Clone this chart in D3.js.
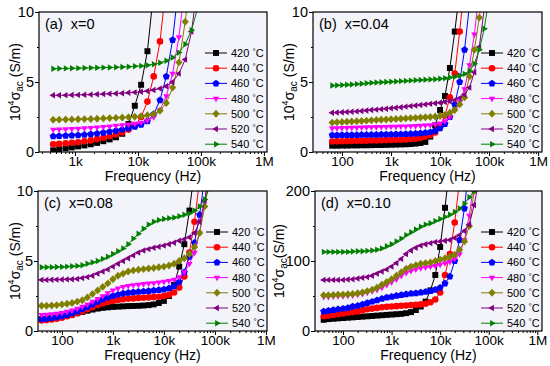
<!DOCTYPE html>
<html>
<head>
<meta charset="utf-8">
<script src="https://cdn.jsdelivr.net/npm/d3@7"></script>
<style>
body { margin: 0; background: #fff; }
text { font-family: Arial, "Liberation Sans", sans-serif; }
</style>
</head>
<body>
<svg width="550" height="366"></svg>
<script>
// series: 420..540 °C
const temps = ['420', '440', '460', '480', '500', '520', '540'];
const colors = ['#000000', '#ff0000', '#0000ff', '#ff00ff', '#808000', '#800080', '#008000'];
const shapes = ['square', 'circle', 'pentagon', 'down', 'diamond', 'left', 'right'];

// frequencies (Hz)
const freqA = [450, 560, 710, 890, 1120, 1410, 1780, 2240, 2820, 3550, 4470, 5620, 7080, 8910,
  11220, 14130, 17780, 22390, 28180, 35480, 44670, 56230, 70790, 89130];
const freqBCD = [40, 50, 63, 79, 100, 126, 158, 200, 251, 316, 398, 501, 631, 794, 1000, 1259, 1585,
  1995, 2512, 3162, 3981, 5012, 6310, 7943, 10000, 12589, 15849, 19953, 25119, 31623, 39811,
  50119, 63096, 79433, 100000];

// (a) x=0
const sigmaA = [
  [0.12, 0.2, 0.27, 0.33, 0.4, 0.47, 0.55, 0.65, 0.77, 0.9, 1.05, 1.3, 2.0, 3.3, 4.8, 7.2, 11.5],
  [0.55, 0.58, 0.62, 0.66, 0.7, 0.76, 0.83, 0.92, 1.02, 1.12, 1.25, 1.4, 1.6, 1.9, 2.5, 3.6, 5.4, 7.9, 12],
  [1.12, 1.14, 1.16, 1.18, 1.2, 1.23, 1.27, 1.32, 1.38, 1.45, 1.52, 1.6, 1.7, 1.8, 1.95, 2.2, 2.7, 3.7, 5.4, 8.0, 12],
  [1.6, 1.62, 1.64, 1.66, 1.68, 1.7, 1.73, 1.76, 1.8, 1.84, 1.88, 1.92, 1.97, 2.02, 2.1, 2.25, 2.5, 3.0, 4.0, 5.6, 8.2, 12],
  [2.3, 2.31, 2.32, 2.33, 2.34, 2.35, 2.36, 2.38, 2.4, 2.42, 2.44, 2.46, 2.49, 2.52, 2.56, 2.62, 2.72, 2.95, 3.5, 4.6, 6.4, 9.3, 13],
  [4.05, 4.05, 4.06, 4.07, 4.08, 4.09, 4.1, 4.12, 4.14, 4.16, 4.18, 4.2, 4.23, 4.26, 4.3, 4.36, 4.43, 4.53, 4.7, 5.0, 5.6, 6.6, 8.6, 12],
  [5.95, 5.96, 5.97, 5.98, 5.99, 6.0, 6.01, 6.02, 6.03, 6.04, 6.05, 6.07, 6.09, 6.12, 6.15, 6.2, 6.27, 6.37, 6.52, 6.75, 7.1, 7.7, 8.7, 10.3]
];

// (b) x=0.04
const sigmaB = [
  [null, null, 0.45, 0.45, 0.46, 0.46, 0.47, 0.47, 0.48, 0.48, 0.49, 0.5, 0.5, 0.51, 0.52, 0.53, 0.54, 0.55, 0.57, 0.6, 0.64, 0.72, 1.1, 1.9, 3.0, 4.0, 6.0, 8.6, 11.5],
  [null, null, 0.75, 0.76, 0.77, 0.78, 0.79, 0.8, 0.8, 0.81, 0.82, 0.83, 0.84, 0.85, 0.86, 0.87, 0.88, 0.9, 0.92, 0.95, 1.0, 1.1, 1.2, 1.4, 1.8, 2.6, 3.9, 5.6, 8.6, 12],
  [null, null, 1.2, 1.2, 1.21, 1.21, 1.22, 1.22, 1.23, 1.23, 1.24, 1.24, 1.25, 1.25, 1.26, 1.27, 1.28, 1.29, 1.3, 1.32, 1.34, 1.37, 1.42, 1.5, 1.7, 2.0, 2.5, 3.4, 5.0, 7.3, 10.5],
  [null, null, 1.7, 1.71, 1.72, 1.73, 1.74, 1.75, 1.76, 1.77, 1.78, 1.79, 1.8, 1.8, 1.81, 1.82, 1.83, 1.84, 1.85, 1.86, 1.88, 1.9, 1.93, 1.97, 2.05, 2.2, 2.5, 3.0, 3.6, 4.5, 6.2, 8.4, 11.5],
  [null, null, 2.1, 2.12, 2.14, 2.16, 2.18, 2.2, 2.22, 2.24, 2.26, 2.28, 2.3, 2.32, 2.34, 2.36, 2.38, 2.4, 2.42, 2.44, 2.46, 2.48, 2.5, 2.53, 2.57, 2.65, 2.8, 3.0, 3.4, 3.9, 5.4, 7.3, 9.6, 12.5],
  [null, null, 2.8, 2.82, 2.84, 2.86, 2.88, 2.9, 2.93, 2.96, 3.0, 3.03, 3.06, 3.09, 3.12, 3.16, 3.2, 3.24, 3.28, 3.32, 3.36, 3.4, 3.44, 3.48, 3.52, 3.57, 3.62, 3.7, 3.85, 4.1, 4.6, 5.7, 7.5, 10.2, 13],
  [null, null, 4.75, 4.76, 4.78, 4.8, 4.82, 4.85, 4.88, 4.91, 4.94, 4.96, 4.98, 5.0, 5.02, 5.04, 5.06, 5.08, 5.1, 5.12, 5.14, 5.16, 5.18, 5.2, 5.23, 5.27, 5.32, 5.38, 5.46, 5.58, 5.8, 6.3, 7.3, 8.8, 11]
];

// (c) x=0.08
const sigmaC = [
  [0.85, 0.88, 0.92, 0.97, 1.03, 1.1, 1.18, 1.27, 1.36, 1.45, 1.53, 1.6, 1.65, 1.69, 1.72, 1.74, 1.76, 1.78, 1.79, 1.8, 1.82, 1.85, 1.9, 2.0, 2.15, 2.5, 3.3, 4.6, 6.2, 8.6, 11.5],
  [0.75, 0.78, 0.82, 0.88, 0.95, 1.05, 1.15, 1.27, 1.4, 1.55, 1.7, 1.85, 1.97, 2.07, 2.15, 2.22, 2.27, 2.3, 2.33, 2.36, 2.38, 2.4, 2.42, 2.45, 2.5, 2.58, 2.75, 3.1, 3.9, 5.6, 7.8, 10.8],
  [0.85, 0.88, 0.92, 0.98, 1.05, 1.15, 1.27, 1.4, 1.55, 1.72, 1.9, 2.08, 2.25, 2.4, 2.5, 2.6, 2.68, 2.73, 2.77, 2.8, 2.83, 2.86, 2.9, 2.93, 2.97, 3.05, 3.2, 3.5, 4.2, 5.3, 6.3, 8.3, 11],
  [1.15, 1.18, 1.2, 1.25, 1.3, 1.38, 1.48, 1.6, 1.75, 1.9, 2.1, 2.3, 2.5, 2.7, 2.9, 3.05, 3.15, 3.22, 3.28, 3.32, 3.36, 3.4, 3.43, 3.47, 3.52, 3.58, 3.68, 3.85, 4.2, 4.8, 5.6, 7.0, 9.3, 12],
  [1.8, 1.8, 1.82, 1.85, 1.9, 1.95, 2.0, 2.1, 2.2, 2.4, 2.65, 2.9, 3.15, 3.4, 3.7, 3.95, 4.1, 4.25, 4.33, 4.38, 4.42, 4.46, 4.5, 4.55, 4.6, 4.68, 4.8, 5.0, 5.2, 5.5, 6.0, 7.0, 8.9, 11],
  [3.65, 3.65, 3.66, 3.67, 3.68, 3.69, 3.7, 3.72, 3.78, 3.85, 3.95, 4.1, 4.25, 4.4, 4.6, 4.8, 5.0, 5.2, 5.4, 5.6, 5.75, 5.85, 5.95, 6.02, 6.1, 6.2, 6.3, 6.45, 6.55, 6.7, 7.0, 7.8, 9.3, 11.5],
  [4.55, 4.55, 4.56, 4.57, 4.58, 4.6, 4.62, 4.65, 4.7, 4.8, 4.9, 5.0, 5.15, 5.3, 5.5, 5.7, 5.9, 6.2, 6.6, 6.95, 7.3, 7.6, 7.8, 7.92, 8.0, 8.05, 8.1, 8.2, 8.3, 8.4, 8.6, 8.9, 9.4, 10.3]
];

// (d) x=0.10
const sigmaD = [
  [16, 17, 17.5, 18, 18.5, 19, 19.5, 20, 20.5, 21, 21.5, 22, 22.5, 23, 23.5, 24, 24.5, 25.5, 27, 30, 35, 42, 58, 80, 120, 176, 240],
  [21, 22, 23, 24, 25, 26, 27, 28, 29.5, 31, 32, 33, 34, 34.5, 35, 35.5, 36, 36.5, 37, 37.5, 38, 39, 41, 45, 55, 80, 110, 155, 215],
  [28, 29, 30, 31, 32, 33, 35, 36, 38, 40, 42, 44, 46, 48, 49, 50.5, 51.5, 52.5, 53.5, 54, 55, 56, 57, 59, 62, 68, 78, 100, 130, 175, 240],
  [49, 49, 49.5, 50, 50, 50.5, 51, 52, 53, 55, 57, 59, 62, 66, 70, 74, 79, 83, 86, 88, 90, 91, 92, 93, 95, 97, 99, 103, 110, 130, 165, 215],
  [51, 51, 51.5, 52, 52, 52.5, 53, 54, 55, 57, 59, 62, 66, 70, 74, 79, 84, 89, 92, 94, 96, 97, 98, 100, 102, 104, 106, 109, 116, 128, 150, 200, 250],
  [73, 73, 73, 73, 73, 73.5, 74, 75, 76, 77, 79, 82, 85, 88, 92, 97, 103, 110, 115, 119, 122, 124, 125.5, 127, 128, 129, 130, 133, 137, 143, 152, 180, 215],
  [113, 113, 113, 113, 113, 113, 113.5, 114, 114, 114.5, 115, 116, 118, 121, 124, 128, 132, 137, 141, 145, 149, 152, 154, 157, 160, 163, 166, 170, 175, 182, 191, 200, 212]
];

const xTickVals = [100, 1000, 10000, 100000, 1000000];
const xTickText = ['100', '1k', '10k', '100k', '1M'];

const panels = [
  {tag: '(a)', comp: 'x=0', freq: freqA, data: sigmaA, left: 39, right: 267, top: 12, bottom: 152,
   xDom: [268, 1.12e6], yDom: [0, 10], yTicks: [0, 5, 10], yMinor: [2.5, 7.5], legX: 205, titleX: 20},
  {tag: '(b)', comp: 'x=0.04', freq: freqBCD, data: sigmaB, left: 313, right: 542, top: 12, bottom: 152,
   xDom: [25.6, 1.2e6], yDom: [0, 10], yTicks: [0, 5, 10], yMinor: [2.5, 7.5], legX: 481, titleX: 294},
  {tag: '(c)', comp: 'x=0.08', freq: freqBCD, data: sigmaC, left: 38, right: 267, top: 191, bottom: 331,
   xDom: [34, 1.05e6], yDom: [0, 10], yTicks: [0, 5, 10], yMinor: [2.5, 7.5], legX: 206, titleX: 20},
  {tag: '(d)', comp: 'x=0.10', freq: freqBCD, data: sigmaD, left: 315, right: 542, top: 191, bottom: 331,
   xDom: [26.5, 1.25e6], yDom: [0, 200], yTicks: [0, 100, 200], yMinor: [50, 150], legX: 481, titleX: 284}
];

function marker(type, r) {
  const poly = pts => 'M' + pts.map(p => p.join(',')).join('L') + 'Z';
  const ang = (n, off) => d3.range(n).map(k => {
    const a = off + k * 2 * Math.PI / n;
    return [r * 1.12 * Math.cos(a), r * 1.12 * Math.sin(a)];
  });
  switch (type) {
    case 'square': { const s = r * 0.9; return poly([[-s, -s], [s, -s], [s, s], [-s, s]]); }
    case 'circle': return `M${r},0A${r},${r} 0 1,1 ${-r},0A${r},${r} 0 1,1 ${r},0Z`;
    case 'pentagon': return poly(ang(5, -Math.PI / 2));
    case 'down': return poly(ang(3, Math.PI / 2));
    case 'diamond': return poly([[0, -r * 1.2], [r * 1.1, 0], [0, r * 1.2], [-r * 1.1, 0]]);
    case 'left': return poly(ang(3, Math.PI));
    case 'right': return poly(ang(3, 0));
  }
}

const svg = d3.select('svg');

panels.forEach((p, pi) => {
  const g = svg.append('g');
  const x = d3.scaleLog().domain(p.xDom).range([p.left, p.right]);
  const y = d3.scaleLinear().domain(p.yDom).range([p.bottom, p.top]);

  g.append('rect')
    .attr('x', p.left).attr('y', p.top)
    .attr('width', p.right - p.left).attr('height', p.bottom - p.top)
    .attr('fill', '#f3f3fa');

  const clipId = 'clip' + pi;
  g.append('clipPath').attr('id', clipId)
    .append('rect')
    .attr('x', p.left).attr('y', p.top)
    .attr('width', p.right - p.left).attr('height', p.bottom - p.top);

  const plot = g.append('g').attr('clip-path', `url(#${clipId})`);
  const line = d3.line().x(d => x(d[0])).y(d => y(d[1]));

  p.data.forEach((vals, i) => {
    const pts = p.freq.map((f, j) => [f, vals[j]]).filter(d => d[1] != null && d[1] !== undefined);
    plot.append('path')
      .attr('d', line(pts))
      .attr('fill', 'none')
      .attr('stroke', colors[i])
      .attr('stroke-width', 1);
    plot.selectAll(null)
      .data(pts).enter()
      .append('path')
        .attr('transform', d => `translate(${x(d[0])},${y(d[1])})`)
        .attr('d', marker(shapes[i], 3.3))
        .attr('fill', colors[i]);
  });

  // axes
  const fmt = d => xTickText[xTickVals.indexOf(d)];
  const inX = xTickVals.filter(v => v >= p.xDom[0] && v <= p.xDom[1]);
  const minorX = [];
  [10, 100, 1000, 10000, 100000].forEach(dec => {
    for (let k = 2; k <= 9; k++) {
      const v = k * dec;
      if (v >= p.xDom[0] && v <= p.xDom[1]) minorX.push(v);
    }
  });

  const xa = g.append('g').attr('transform', `translate(0,${p.bottom})`)
    .call(d3.axisBottom(x).tickValues(inX).tickFormat(fmt).tickSizeInner(4).tickSizeOuter(0).tickPadding(0));
  g.append('g').attr('transform', `translate(0,${p.bottom})`)
    .call(d3.axisBottom(x).tickValues(minorX).tickFormat('').tickSizeInner(2).tickSizeOuter(0));

  const ya = g.append('g').attr('transform', `translate(${p.left},0)`)
    .call(d3.axisLeft(y).tickValues(p.yTicks).tickSizeInner(4).tickSizeOuter(0).tickPadding(1));
  g.append('g').attr('transform', `translate(${p.left},0)`)
    .call(d3.axisLeft(y).tickValues(p.yMinor).tickFormat('').tickSizeInner(2).tickSizeOuter(0));

  g.selectAll('.domain').remove();
  g.selectAll('.tick line').attr('stroke', '#000');
  xa.selectAll('text').attr('font-size', 13.5).attr('fill', '#000').attr('font-family', 'Arial, "Liberation Sans", sans-serif');
  ya.selectAll('text').attr('font-size', 14.5).attr('fill', '#000').attr('font-family', 'Arial, "Liberation Sans", sans-serif');

  g.append('rect')
    .attr('x', p.left).attr('y', p.top)
    .attr('width', p.right - p.left).attr('height', p.bottom - p.top)
    .attr('fill', 'none').attr('stroke', '#000').attr('stroke-width', 1.2);

  // axis titles
  g.append('text')
    .attr('x', (p.left + p.right) / 2).attr('y', p.bottom + 29)
    .attr('text-anchor', 'middle').attr('font-size', 14)
    .text('Frequency (Hz)');

  const yt = g.append('text')
    .attr('transform', `translate(${p.titleX},${(p.top + p.bottom) / 2}) rotate(-90)`)
    .attr('text-anchor', 'middle').attr('font-size', 14);
  yt.append('tspan').text('10');
  yt.append('tspan').attr('font-size', 9).attr('dy', -6).text('4');
  yt.append('tspan').attr('dy', 6).text('σ');
  yt.append('tspan').attr('font-size', 10).attr('dy', 3).text('ac');
  yt.append('tspan').attr('dy', -3).text(pi === 3 ? '(S/m)' : ' (S/m)');

  // panel tag
  g.append('text')
    .attr('x', p.left + 6).attr('y', p.top + 17)
    .attr('font-size', 14.5)
    .attr('xml:space', 'preserve')
    .text(p.tag + '  ' + p.comp);

  // legend
  temps.forEach((t, i) => {
    const ly = p.top + 41 + i * 15.2;
    g.append('line')
      .attr('x1', p.legX).attr('x2', p.legX + 22)
      .attr('y1', ly).attr('y2', ly)
      .attr('stroke', colors[i]).attr('stroke-width', 1);
    g.append('path')
      .attr('transform', `translate(${p.legX + 11},${ly})`)
      .attr('d', marker(shapes[i], 3.3))
      .attr('fill', colors[i]);
    const lt = g.append('text')
      .attr('x', p.legX + 26).attr('y', ly + 4)
      .attr('font-size', 11);
    lt.append('tspan').text(t + ' ');
    lt.append('tspan').attr('font-size', 8).attr('dy', -3).text('°');
    lt.append('tspan').attr('dy', 3).text('C');
  });
});
</script>
</body>
</html>
